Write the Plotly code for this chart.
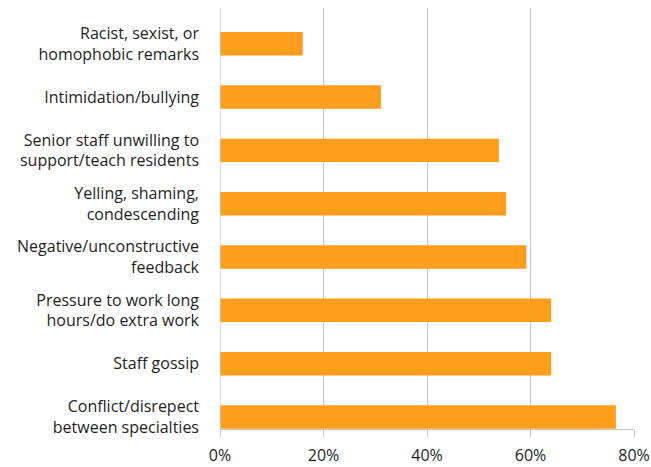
import plotly.graph_objects as go

# Share of respondents reporting each behaviour (bottom to top)
categories = [
    "Conflict/disrepect<br>between specialties",
    "Staff gossip",
    "Pressure to work long<br>hours/do extra work",
    "Negative/unconstructive<br>feedback",
    "Yelling, shaming,<br>condescending",
    "Senior staff unwilling to<br>support/teach residents",
    "Intimidation/bullying",
    "Racist, sexist, or<br>homophobic remarks",
]
shares = [0.765, 0.64, 0.64, 0.592, 0.553, 0.539, 0.311, 0.16]

x_ticks = [0, 0.2, 0.4, 0.6, 0.8]
x_tick_labels = ["0%", "20%", "40%", "60%", "80%"]

grid_color = "#c6c6c6"
font_family = "'Open Sans', Lato, sans-serif"

fig = go.Figure(
    go.Bar(
        y=list(range(len(categories))),
        x=shares,
        orientation="h",
        marker=dict(color="#FF9E1B", line=dict(width=0)),
        width=0.44,
        hoverinfo="x+y",
    )
)

fig.update_layout(
    width=651,
    height=467,
    margin=dict(l=220, r=17, t=8, b=38),
    plot_bgcolor="white",
    paper_bgcolor="white",
    showlegend=False,
    font=dict(family=font_family, size=16, color="#1e1e1e"),
)

fig.update_xaxes(
    range=[0, 0.8],
    tickvals=x_ticks,
    ticktext=x_tick_labels,
    showgrid=True,
    gridcolor=grid_color,
    gridwidth=1.3,
    zeroline=False,
    showline=True,
    linecolor=grid_color,
    linewidth=1.3,
    ticks="outside",
    ticklen=7,
    tickwidth=1.3,
    tickcolor=grid_color,
    ticklabelstandoff=5,
    tickfont=dict(size=16, color="#1e1e1e"),
    automargin=False,
    fixedrange=True,
)

fig.update_yaxes(
    range=[-0.225, 7.67],
    tickvals=list(range(len(categories))),
    ticktext=categories,
    showgrid=False,
    zeroline=False,
    showline=False,
    ticks="",
    ticklabelstandoff=20,
    tickfont=dict(size=16, color="#1e1e1e"),
    automargin=False,
    fixedrange=True,
)

# left edge of the plot (the 0% line)
fig.add_shape(
    type="line", xref="x", yref="paper",
    x0=0, x1=0, y0=0, y1=1,
    line=dict(color=grid_color, width=1.3),
    layer="above",
)

fig.write_html("out.html")
